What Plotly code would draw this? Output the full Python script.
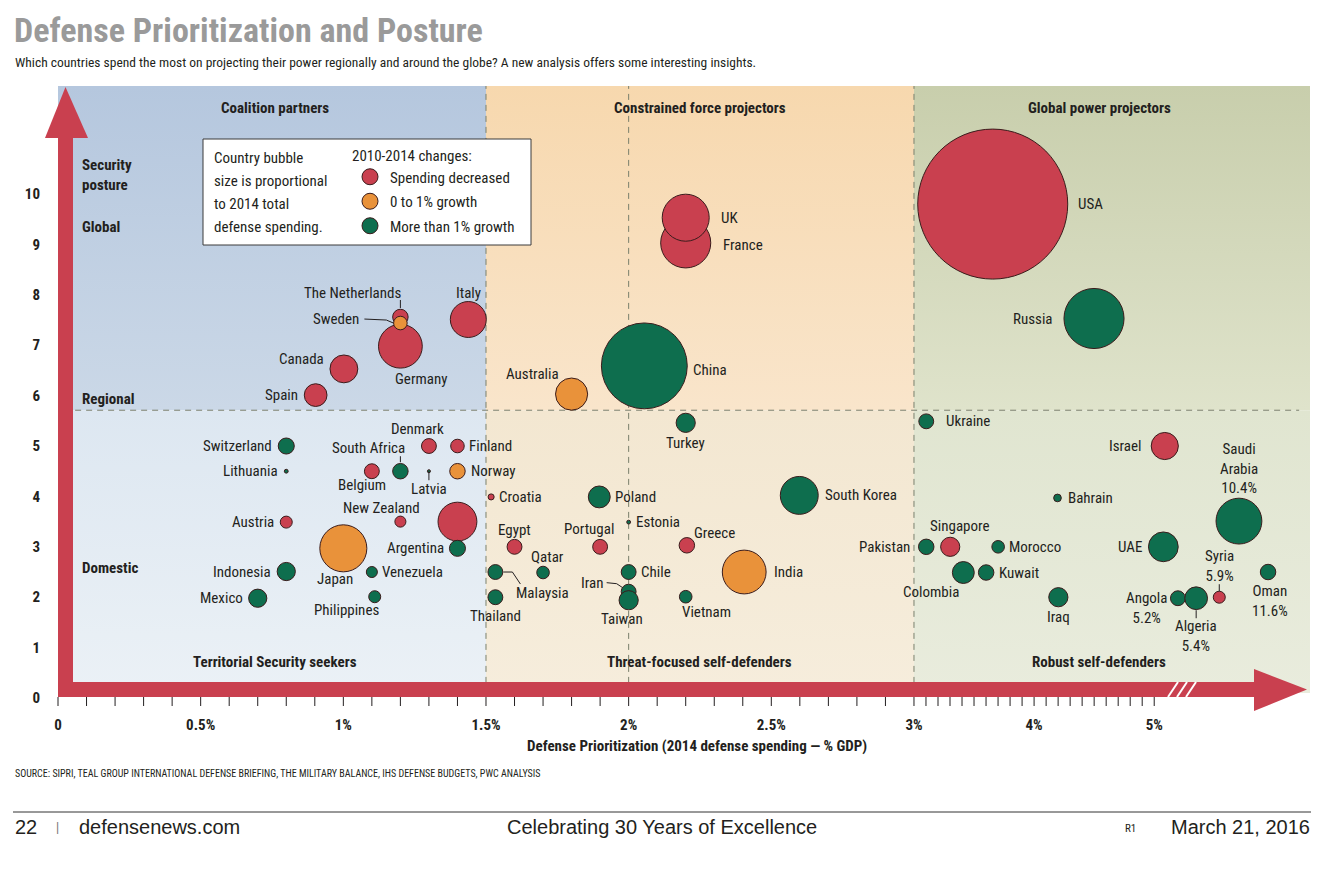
import plotly.graph_objects as go

# ---- data ----
# x_pos is the position on the drawn axis: linear in % GDP up to 3%,
# compressed from 3% to 5%, and past the axis break for the outliers
countries = [
    "France", "UK", "USA", "Germany", "Italy", "Canada", "Spain", "The Netherlands",
    "Denmark", "Finland", "Belgium", "Croatia", "Austria", "New Zealand", "",
    "Egypt", "Portugal", "Greece", "Israel", "Singapore", "Syria",
    "Sweden", "Australia", "Norway", "Japan", "India",
    "China", "Russia", "Turkey", "Switzerland", "Lithuania", "South Africa", "Latvia",
    "Argentina", "Indonesia", "Venezuela", "Mexico", "Philippines", "Poland", "Estonia",
    "Malaysia", "Qatar", "Chile", "Iran", "Taiwan", "Thailand", "Vietnam", "South Korea",
    "Ukraine", "Bahrain", "Saudi Arabia", "Pakistan", "Morocco", "UAE", "Colombia",
    "Kuwait", "Oman", "Iraq", "Angola", "Algeria",
]
x_pos = [
    2.20, 2.20, 3.276, 1.20, 1.438, 1.002, 0.903, 1.20,
    1.30, 1.40, 1.10, 1.518, 0.80, 1.20, 1.40,
    1.60, 1.90, 2.204, 3.879, 3.127, 4.07,
    1.20, 1.80, 1.40, 1.00, 2.405,
    2.055, 3.631, 2.20, 0.80, 0.80, 1.20, 1.30,
    1.40, 0.80, 1.10, 0.70, 1.11, 1.897, 2.00,
    1.533, 1.70, 2.00, 2.00, 2.00, 1.533, 2.20, 2.598,
    3.043, 3.503, 4.139, 3.043, 3.295, 3.874, 3.173,
    3.253, 4.241, 3.506, 3.925, 3.989,
]
posture = [
    9.03, 9.53, 9.80, 6.98, 7.51, 6.53, 6.01, 7.56,
    5.00, 5.00, 4.50, 3.99, 3.49, 3.50, 3.50,
    3.00, 3.00, 3.03, 5.00, 3.00, 2.00,
    7.44, 6.03, 4.50, 2.97, 2.50,
    6.59, 7.53, 5.46, 5.00, 4.50, 4.50, 4.50,
    2.97, 2.51, 2.50, 1.98, 2.01, 3.99, 3.49,
    2.50, 2.49, 2.50, 2.11, 1.94, 2.00, 2.01, 4.02,
    5.49, 3.97, 3.51, 3.00, 3.00, 3.00, 2.49,
    2.49, 2.50, 2.00, 1.98, 1.98,
]
# 2014 defense spending, $bn (bubble area)
spending = [
    68, 60, 610, 52, 35, 21, 14, 6.5,
    6, 5, 6, 1.0, 3.9, 3.3, 41,
    6, 6, 6.5, 20, 10, 3.9,
    5, 28, 6.5, 60, 52,
    200, 98, 10, 7, 0.4, 6.5, 0.25,
    7, 9, 3.3, 9, 3.9, 13, 0.4,
    6, 4.3, 6, 6, 10, 6, 4.3, 39,
    6, 1.6, 57, 6.5, 4.3, 24, 13,
    6.5, 6.5, 10, 6, 14,
]
change = ["dec"] * 21 + ["flat"] * 5 + ["grow"] * 34

groups = ["dec", "flat", "grow"]
group_names = ["Spending decreased", "0 to 1% growth", "More than 1% growth"]

tick_pos = [0, 0.5, 1, 1.5, 2, 2.5, 3, 3.421, 3.842]
tick_text = ["0", "0.5%", "1%", "1.5%", "2%", "2.5%", "3%", "4%", "5%"]
posture_ticks = list(range(11))

quadrant_names = ["Coalition partners", "Constrained force projectors", "Global power projectors",
                  "Territorial Security seekers", "Threat-focused self-defenders", "Robust self-defenders"]

# label placement: name -> (xshift px, yshift px, xanchor)
label_place = {
    "USA": (83, 0, "left"), "Russia": (-39, 0, "right"), "UK": (33, 0, "left"),
    "France": (35, -2, "left"), "China": (47, -4, "left"), "Australia": (-39, 20, "center"),
    "Turkey": (0, -20, "center"), "Italy": (0, 27, "center"), "The Netherlands": (-48, 24, "center"),
    "Sweden": (-39, 4, "right"), "Germany": (21, -33, "center"), "Canada": (-18, 10, "right"),
    "Spain": (-16, 0, "right"), "Switzerland": (-12, 0, "right"), "Lithuania": (-6, 0, "right"),
    "Denmark": (-11, 17, "center"), "South Africa": (-32, 23, "center"), "Finland": (10, 0, "left"),
    "Belgium": (-10, -14, "center"), "Latvia": (0, -18, "center"), "Norway": (12, 0, "left"),
    "Croatia": (6, 0, "left"), "Austria": (-10, 0, "right"), "New Zealand": (-19, 14, "center"),
    "Argentina": (-11, 0, "right"), "Japan": (-8, -31, "center"), "Indonesia": (-13, 0, "right"),
    "Venezuela": (8, 0, "left"), "Mexico": (-13, 0, "right"), "Philippines": (-28, -13, "center"),
    "Poland": (14, 0, "left"), "Estonia": (5, 0, "left"), "Egypt": (0, 17, "center"),
    "Portugal": (-11, 18, "center"), "Greece": (5, 12, "left"), "Qatar": (4, 16, "center"),
    "Malaysia": (47, -21, "center"), "Chile": (10, 0, "left"), "Iran": (-24, 9, "right"),
    "Taiwan": (-7, -19, "center"), "Thailand": (0, -19, "center"), "Vietnam": (21, -15, "center"),
    "India": (28, 0, "left"), "South Korea": (24, 0, "left"), "Ukraine": (18, 0, "left"),
    "Israel": (-21, 0, "right"), "Bahrain": (9, 0, "left"), "Saudi Arabia": (0, 53, "center"),
    "Singapore": (9, 21, "center"), "Pakistan": (-14, 0, "right"), "Morocco": (9, 0, "left"),
    "UAE": (-19, 0, "right"), "Colombia": (-32, -19, "center"), "Kuwait": (11, 0, "left"),
    "Iraq": (0, -20, "center"), "Syria": (0, 31, "center"), "Oman": (2, -29, "center"),
    "Angola": (-31, -10, "center"), "Algeria": (0, -38, "center"),
}
label_text = {
    "Saudi Arabia": "Saudi<br>Arabia<br>10.4%", "Syria": "Syria<br>5.9%",
    "Oman": "Oman<br>11.6%", "Angola": "Angola<br>5.2%", "Algeria": "Algeria<br>5.4%",
}
# leader lines, px relative to bubble centre
leaders = {
    "The Netherlands": "M0,9 L0,17", "Sweden": "M-36,4 L-14,3 L-7,0",
    "South Africa": "M0,9 L0,15", "Latvia": "M0,0 L0,-9",
    "Malaysia": "M8,0 L17,0 L25,-12", "Iran": "M-22,9 L-12,8 L-6,4",
    "Syria": "M0,6 L0,13", "Algeria": "M0,-12 L0,-20",
}

NARROW = "Liberation Sans Narrow, Roboto Condensed, DejaVu Sans Condensed, Arial Narrow, sans-serif"
PLAIN = "Liberation Sans, Arial, Helvetica, sans-serif"
INK = "#231f20"
RED, ORANGE, GREEN = "#c9404f", "#e9923a", "#0e6e4e"
ARROW = "#c9404f"
colors = {"dec": RED, "flat": ORANGE, "grow": GREEN}

# the page body adds 8px around the figure, so work in page pixels minus that
OFF = 8
W, H = 1331 - OFF, 877 - OFF
ML, MR, MT, MB = 41 - OFF, 21, 86 - OFF, 163
X_RANGE = [-0.0596, 4.388]
Y_RANGE = [-0.317, 12.143]
SPLIT_Y = 5.71


def xp(px):  # page pixel -> paper x
    return (px - OFF - ML) / (W - ML - MR)


def yp(py):  # page pixel -> paper y
    return 1 - (py - OFF - MT) / (H - MT - MB)


def ux(px):  # page pixel -> x axis units
    return X_RANGE[0] + xp(px) * (X_RANGE[1] - X_RANGE[0])


def uy(py):  # page pixel -> y axis units
    return Y_RANGE[0] + yp(py) * (Y_RANGE[1] - Y_RANGE[0])


fig = go.Figure()

# quadrant backgrounds
bands = [
    (0, 1.5, SPLIT_Y, Y_RANGE[1], "#cbd8e7", "#b5c7de"),
    (1.5, 3.0, SPLIT_Y, Y_RANGE[1], "#f9e5cb", "#f7d8ae"),
    (3.0, X_RANGE[1], SPLIT_Y, Y_RANGE[1], "#dfe3cb", "#c8ceac"),
    (0, 1.5, 0.1, SPLIT_Y, "#ebf1f6", "#dde7f1"),
    (1.5, 3.0, 0.1, SPLIT_Y, "#f6eddc", "#f3e7d1"),
    (3.0, X_RANGE[1], 0.1, SPLIT_Y, "#e9ecdd", "#e0e5d0"),
]
for x0, x1, y0, y1, c_bot, c_top in bands:
    fig.add_trace(go.Scatter(
        x=[x0, x1, x1, x0, x0], y=[y0, y0, y1, y1, y0], mode="lines",
        line=dict(width=0), fill="toself", fillcolor=c_top,
        fillgradient=dict(type="vertical", colorscale=[[0, c_bot], [1, c_top]]),
        hoverinfo="skip", showlegend=False))

# dashed dividers
for xv in [1.5, 2.0, 3.0]:
    fig.add_trace(go.Scatter(x=[xv, xv], y=[0.3, Y_RANGE[1]], mode="lines",
                             line=dict(color="#7a7f6c", width=1, dash="6px,5px"),
                             hoverinfo="skip", showlegend=False))
fig.add_trace(go.Scatter(x=[0.06, 4.35], y=[SPLIT_Y, SPLIT_Y], mode="lines",
                         line=dict(color="#7a7f6c", width=1, dash="6px,5px"),
                         hoverinfo="skip", showlegend=False))

# bubbles, area proportional to spending (USA about 150px across)
sizeref = 2.0 * max(spending) / 150 ** 2
for key, gname in zip(groups, group_names):
    idx = [i for i, c in enumerate(change) if c == key]
    fig.add_trace(go.Scatter(
        x=[x_pos[i] for i in idx], y=[posture[i] for i in idx], mode="markers",
        name=gname, legendgroup=key,
        marker=dict(size=[spending[i] for i in idx], sizemode="area", sizeref=sizeref,
                    color=colors[key], opacity=1, line=dict(color="#3a1c1c", width=1)),
        text=[countries[i] for i in idx], hovertemplate="%{text}<extra></extra>"))

shapes = []
ann = []

# country labels + leader lines
for i, name in enumerate(countries):
    if name in label_place:
        dx, dy, anchor = label_place[name]
        ann.append(dict(x=x_pos[i], y=posture[i], xref="x", yref="y",
                        text=label_text.get(name, name), showarrow=False,
                        xshift=dx, yshift=dy, xanchor=anchor, yanchor="middle", align="center",
                        font=dict(family=NARROW, size=15, color=INK)))
    if name in leaders:
        shapes.append(dict(type="path", xref="x", yref="y", xsizemode="pixel", ysizemode="pixel",
                           xanchor=x_pos[i], yanchor=posture[i], path=leaders[name],
                           line=dict(color=INK, width=1), layer="above"))

# red arrows
shapes += [
    dict(type="rect", x0=0, x1=ux(1256), y0=uy(697), y1=uy(682),
         fillcolor=ARROW, line=dict(width=0), layer="above"),
    dict(type="path", path=f"M{ux(1254)},{uy(669)} L{ux(1307)},{uy(689.5)} L{ux(1254)},{uy(711)} Z",
         fillcolor=ARROW, line=dict(width=0), layer="above"),
    dict(type="rect", x0=0, x1=ux(73), y0=uy(697), y1=uy(136),
         fillcolor=ARROW, line=dict(width=0), layer="above"),
    dict(type="path", path=f"M{ux(45)},{uy(138)} L{ux(65.5)},{uy(87)} L{ux(88)},{uy(138)} Z",
         fillcolor=ARROW, line=dict(width=0), layer="above"),
]
for k in range(3):
    shapes.append(dict(type="line", x0=ux(1168 + 9 * k), x1=ux(1178 + 9 * k), y0=uy(697), y1=uy(682),
                       line=dict(color="white", width=2), layer="above"))

# small ticks under the arrow: every 0.1% of GDP
minor = [k * 0.1 for k in range(31)] + [3 + k * (tick_pos[7] - 3) / 10 for k in range(1, 21)]
for v in minor:
    shapes.append(dict(type="line", x0=v, x1=v, y0=uy(697), y1=uy(706),
                       line=dict(color=INK, width=1), layer="above"))

# legend box
shapes.append(dict(type="rect", x0=ux(203), x1=ux(531), y0=uy(245), y1=uy(139),
                   fillcolor="white", line=dict(color="#3a3a3a", width=1), layer="above"))
for k, line in enumerate(["Country bubble", "size is proportional", "to 2014 total", "defense spending."]):
    ann.append(dict(x=ux(212), y=uy(158 + 23 * k), xref="x", yref="y", text=line, showarrow=False,
                    xanchor="left", yanchor="middle", font=dict(family=NARROW, size=15, color=INK)))

# quadrant titles
for k, qn in enumerate(quadrant_names):
    ann.append(dict(x=[0.76, 2.25, 3.65][k % 3], y=uy(108) if k < 3 else uy(662), xref="x", yref="y",
                    text=f"<b>{qn}</b>", showarrow=False, yanchor="middle",
                    font=dict(family=NARROW, size=15, color=INK)))

# posture labels along the y arrow
for txt, py in [("Security<br>posture", 175), ("Global", 227), ("Regional", 399), ("Domestic", 568)]:
    ann.append(dict(x=ux(80), y=uy(py), xref="x", yref="y", text=f"<b>{txt}</b>", showarrow=False,
                    xanchor="left", yanchor="middle", align="left",
                    font=dict(family=NARROW, size=15, color=INK)))

# header and footer
ann += [
    dict(x=xp(12), y=yp(30), xref="paper", yref="paper", text="<b>Defense Prioritization and Posture</b>",
         showarrow=False, xanchor="left", yanchor="middle", font=dict(family=NARROW, size=34, color="#9a9a9a")),
    dict(x=xp(13), y=yp(62), xref="paper", yref="paper",
         text="Which countries spend the most on projecting their power regionally and around the globe? "
              "A new analysis offers some interesting insights.",
         showarrow=False, xanchor="left", yanchor="middle", font=dict(family=NARROW, size=13.5, color=INK)),
    dict(x=xp(697), y=yp(746), xref="paper", yref="paper",
         text="<b>Defense Prioritization (2014 defense spending — % GDP)</b>",
         showarrow=False, xanchor="center", yanchor="middle", font=dict(family=NARROW, size=15, color=INK)),
    dict(x=xp(13), y=yp(773), xref="paper", yref="paper",
         text="SOURCE: SIPRI, TEAL GROUP INTERNATIONAL DEFENSE BRIEFING, THE MILITARY BALANCE, "
              "IHS DEFENSE BUDGETS, PWC ANALYSIS",
         showarrow=False, xanchor="left", yanchor="middle", font=dict(family=NARROW, size=10, color=INK)),
    dict(x=xp(13), y=yp(827), xref="paper", yref="paper", text="22", showarrow=False,
         xanchor="left", yanchor="middle", font=dict(family=PLAIN, size=20, color=INK)),
    dict(x=xp(57), y=yp(827), xref="paper", yref="paper", text="|", showarrow=False,
         xanchor="center", yanchor="middle", font=dict(family=PLAIN, size=12, color="#777777")),
    dict(x=xp(77), y=yp(827), xref="paper", yref="paper", text="defensenews.com", showarrow=False,
         xanchor="left", yanchor="middle", font=dict(family=PLAIN, size=20, color=INK)),
    dict(x=xp(662), y=yp(827), xref="paper", yref="paper", text="Celebrating 30 Years of Excellence",
         showarrow=False, xanchor="center", yanchor="middle", font=dict(family=PLAIN, size=20, color=INK)),
    dict(x=xp(1130), y=yp(829), xref="paper", yref="paper", text="R1", showarrow=False,
         xanchor="center", yanchor="middle", font=dict(family=NARROW, size=11, color=INK)),
    dict(x=xp(1312), y=yp(827), xref="paper", yref="paper", text="March 21, 2016", showarrow=False,
         xanchor="right", yanchor="middle", font=dict(family=PLAIN, size=20, color=INK)),
]
shapes.append(dict(type="line", xref="paper", yref="paper", x0=xp(13), x1=xp(1311),
                   y0=yp(812), y1=yp(812), line=dict(color="#333333", width=1)))

fig.update_layout(
    width=W, height=H, margin=dict(l=ML, r=MR, t=MT, b=MB),
    paper_bgcolor="white", plot_bgcolor="white",
    shapes=shapes, annotations=ann,
    xaxis=dict(range=X_RANGE, showgrid=False, zeroline=False, showline=False, ticks="", automargin=False,
               tickvals=tick_pos, ticktext=tick_text,
               tickfont=dict(family=NARROW, size=15, color=INK, weight="bold")),
    yaxis=dict(range=Y_RANGE, showgrid=False, zeroline=False, showline=False, ticks="", automargin=False,
               tickvals=posture_ticks, ticktext=[str(v) for v in posture_ticks],
               tickfont=dict(family=NARROW, size=15, color=INK, weight="bold")),
    legend=dict(x=xp(350), y=yp(141), xanchor="left", yanchor="top", bgcolor="rgba(0,0,0,0)",
                title=dict(text="2010-2014 changes:", font=dict(family=NARROW, size=15, color=INK)),
                font=dict(family=NARROW, size=15, color=INK), tracegroupgap=2, itemsizing="trace"),
    hovermode="closest",
)

fig.write_html("out.html")
